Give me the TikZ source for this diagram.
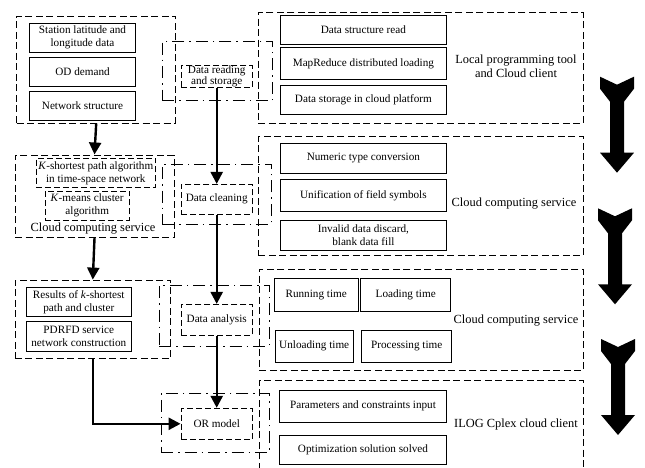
\documentclass[tikz,border=0pt]{standalone}
\usepackage{fontspec}
\setmainfont{Liberation Serif}
\usetikzlibrary{arrows.meta}
\newcommand{\bx}{\fontsize{11.2}{13}\selectfont}
\newcommand{\lb}{\fontsize{12.4}{14.3}\selectfont}

\begin{document}
\begin{tikzpicture}[x=1pt,y=-1pt,
   box/.style={draw,line width=0.9pt,inner sep=0pt,align=center,font=\bx},
   dbox/.style={box,dash pattern=on 6pt off 3pt},
   grp/.style={draw,line width=0.9pt,dash pattern=on 7pt off 3.5pt,inner sep=0pt},
   dd/.style={draw,line width=0.9pt,dash pattern=on 12pt off 5pt on 1.5pt off 5pt,inner sep=0pt},
   lab/.style={align=center,font=\lb,inner sep=0pt},
   flow/.style={line width=2.4pt,-{Triangle[length=12pt,width=12pt]}}]
   \useasboundingbox (0,0) rectangle (645,468);
   \node[grp,minimum width=159pt,minimum height=107pt] (g1) at (96.2,69.5) {};
   \node[box,minimum width=106.4pt,minimum height=29pt] (s1) at (82.5,37.8) {Station latitude and\\longitude data};
   \node[box,minimum width=106.4pt,minimum height=28.7pt] (s2) at (82.5,71.7) {OD demand};
   \node[box,minimum width=106.4pt,minimum height=29pt] (s3) at (82.5,105.5) {Network structure};
   \node[grp,minimum width=159pt,minimum height=82.7pt] (g2) at (94.5,196.3) {};
   \node[dbox,minimum width=119.7pt,minimum height=29.4pt] (k1) at (95.8,173) {\textit{K}-shortest path algorithm\\in time-space network};
   \node[dbox,minimum width=84.3pt,minimum height=29pt] (k2) at (87.2,205.5) {\textit{K}-means cluster\\algorithm};
   \node[lab] (cc) at (93,228.3) {Cloud computing service};
   \node[grp,minimum width=155.7pt,minimum height=78.3pt] (g3) at (92.8,319.2) {};
   \node[box,minimum width=105.7pt,minimum height=29.4pt] (r1) at (78.8,302) {Results of \textit{k}-shortest\\path and cluster};
   \node[box,minimum width=105.7pt,minimum height=30pt] (r2) at (78.8,336.7) {PDRFD service\\network construction};

   \node[dd,minimum width=110.4pt,minimum height=59.7pt] (d1) at (217.5,70.9) {};
   \node[dbox,minimum width=71.3pt,minimum height=21.6pt,font=\fontsize{11.2}{11}\selectfont] (m1) at (216.7,76.5) {Data reading\\and storage};
   \node[dd,minimum width=109.4pt,minimum height=60pt] (d2) at (217,194) {};
   \node[dbox,minimum width=71.3pt,minimum height=29.7pt] (m2) at (216.7,199.2) {Data cleaning};
   \node[dd,minimum width=110pt,minimum height=61pt] (d3) at (214,315.5) {};
   \node[dbox,minimum width=71.3pt,minimum height=30.7pt] (m3) at (216.7,319.7) {Data analysis};
   \node[dd,minimum width=108pt,minimum height=59.4pt] (d4) at (215,423) {};
   \node[dbox,minimum width=71.3pt,minimum height=31pt] (m4) at (216.7,423.8) {OR model};

   \node[grp,minimum width=325pt,minimum height=110.6pt] (R1) at (420.8,68) {};
   \node[box,minimum width=165.3pt,minimum height=29pt] (a1) at (363.4,29.5) {Data structure read};
   \node[box,minimum width=165.3pt,minimum height=32.3pt] (a2) at (363.4,63.8) {MapReduce distributed loading};
   \node[box,minimum width=165.3pt,minimum height=29pt] (a3) at (363.4,99.5) {Data storage in cloud platform};
   \node[lab] (l1) at (516,66) {Local programming tool\\and Cloud client};
   \node[grp,minimum width=325pt,minimum height=118.3pt] (R2) at (420.8,195.9) {};
   \node[box,minimum width=165.3pt,minimum height=30pt] (b1) at (363.4,158.3) {Numeric type conversion};
   \node[box,minimum width=165.3pt,minimum height=32.7pt] (b2) at (363.4,195.3) {Unification of field symbols};
   \node[box,minimum width=165.3pt,minimum height=30pt] (b3) at (363.4,235) {Invalid data discard,\\blank data fill};
   \node[lab] (l2) at (514,203.3) {Cloud computing service};
   \node[grp,minimum width=324pt,minimum height=101.5pt] (R3) at (421.3,319.8) {};
   \node[box,minimum width=84.3pt,minimum height=33.4pt] (c1) at (316.2,295) {Running time};
   \node[box,minimum width=90pt,minimum height=33.4pt] (c2) at (405.7,295) {Loading time};
   \node[box,minimum width=78.3pt,minimum height=32.7pt] (c3) at (314.2,346.3) {Unloading time};
   \node[box,minimum width=90pt,minimum height=32.7pt] (c4) at (406.7,346.3) {Processing time};
   \node[lab] (l3) at (516,320.7) {Cloud computing service};
   \draw[grp] (259.3,480) |- (583.3,380) -- (583.3,480);
   \node[box,minimum width=167.4pt,minimum height=32.7pt] (e1) at (363,406.3) {Parameters and constraints input};
   \node[box,minimum width=167.4pt,minimum height=29pt] (e2) at (363,449.5) {Optimization solution solved};
   \node[lab] (l4) at (516,425) {ILOG Cplex cloud client};

   \draw[flow] (g1.south) -- (g2.north);
   \draw[flow] (g2.south) -- (g3.north);
   \draw[flow] (m1.south) -- (m2.north);
   \draw[flow] (m2.south) -- (m3.north);
   \draw[flow] (m3.south) -- (m4.north);
   \draw[flow] (g3.south) |- (m4.west);

   \foreach \x/\y in {617/76.7,615/208.3,618/339}
      \fill[black] (\x-17,\y) -- (\x,\y+8) -- (\x+17,\y) -- (\x+17,\y+12) -- (\x+7,\y+25) -- (\x+7,\y+76)
         -- (\x+17,\y+76) -- (\x,\y+96) -- (\x-17,\y+76) -- (\x-7,\y+76) -- (\x-7,\y+25) -- (\x-17,\y+12) -- cycle;
\end{tikzpicture}
\end{document}
